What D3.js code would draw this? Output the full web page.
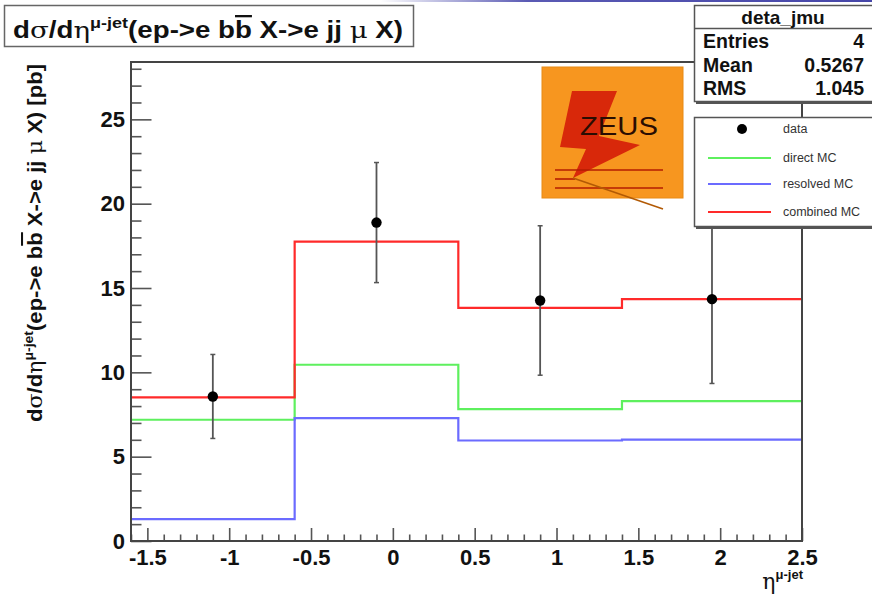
<!DOCTYPE html>
<html>
<head>
<meta charset="utf-8">
<script src="https://cdn.jsdelivr.net/npm/d3@7"></script>
<style>
  html, body { margin: 0; padding: 0; background: #fff; }
  svg { display: block; }
  text { font-family: "Liberation Sans", Arial, Helvetica, sans-serif; }
</style>
</head>
<body>
<svg id="chart" width="872" height="599"></svg>
<script>
// Histogram binning in eta(mu-jet)
const binEdges = [-1.6, -0.6, 0.4, 1.4, 2.5];

// Monte Carlo predictions per bin [pb]
const directMC   = [7.19, 10.45, 7.82, 8.29];
const resolvedMC = [1.30, 7.29, 5.96, 6.01];
const combinedMC = [8.51, 17.75, 13.82, 14.34];

// Measured cross sections with errors
const dataX   = [-1.1, -0.1, 0.9, 1.95];
const dataY   = [8.57, 18.88, 14.26, 14.34];
const dataErr = [2.49, 3.56, 4.43, 5.00];

// Axis ticks and labels
const xMajorTicks = [-1.5, -1, -0.5, 0, 0.5, 1, 1.5, 2, 2.5];
const xTickLabels = ["-1.5", "-1", "-0.5", "0", "0.5", "1", "1.5", "2", "2.5"];
const yMajorTicks = [0, 5, 10, 15, 20, 25];
const yTickLabels = ["0", "5", "10", "15", "20", "25"];

// Statistics box
const statsName = "deta_jmu";
const statsLabels = ["Entries", "Mean", "RMS"];
const statsValues = ["4", "0.5267", "1.045"];

// Legend
const legendLabels = ["data", "direct MC", "resolved MC", "combined MC"];
const legendColors = [null, "#5ef05e", "#6b6bff", "#ff2a2a"];

const svg = d3.select("#chart");

const x = d3.scaleLinear().domain([-1.6, 2.5]).range([131, 802]);
const y = d3.scaleLinear().domain([0, 28.4]).range([541, 62]);

// Top banner line
const defs = svg.append("defs");
const grad = defs.append("linearGradient").attr("id", "banner")
  .attr("x1", "0%").attr("x2", "100%");
grad.append("stop").attr("offset", "0%").attr("stop-color", "#ffffff");
grad.append("stop").attr("offset", "30%").attr("stop-color", "#5a5ab4");
grad.append("stop").attr("offset", "100%").attr("stop-color", "#4646a8");
svg.append("rect").attr("x", 380).attr("y", 0).attr("width", 492).attr("height", 2)
  .attr("fill", "url(#banner)");

// Minor ticks
const xMinor = d3.range(-16, 26).map(v => v / 10).filter(v => xMajorTicks.indexOf(v) < 0);
const yMinor = d3.range(0, 29).filter(v => yMajorTicks.indexOf(v) < 0);

const gx = svg.append("g").attr("transform", `translate(0,${y(0)})`);
gx.call(d3.axisBottom(x).tickValues(xMinor).tickSize(-6.5).tickFormat(""));
gx.call(g => g.select(".domain").remove());
const gxMaj = svg.append("g").attr("transform", `translate(0,${y(0)})`);
gxMaj.call(d3.axisBottom(x).tickValues(xMajorTicks).tickSize(-13)
  .tickPadding(8).tickFormat((d, i) => xTickLabels[i]));
gxMaj.call(g => g.select(".domain").remove());

const gy = svg.append("g").attr("transform", `translate(${x(-1.6)},0)`);
gy.call(d3.axisLeft(y).tickValues(yMinor).tickSize(-10.5).tickFormat(""));
gy.call(g => g.select(".domain").remove());
const gyMaj = svg.append("g").attr("transform", `translate(${x(-1.6)},0)`);
gyMaj.call(d3.axisLeft(y).tickValues(yMajorTicks).tickSize(-20.5)
  .tickPadding(6).tickFormat((d, i) => yTickLabels[i]));
gyMaj.call(g => g.select(".domain").remove());

svg.selectAll(".tick line").attr("stroke", "#555").attr("stroke-width", 1.6);
svg.selectAll(".tick text")
  .attr("font-family", "'Liberation Sans', Arial, sans-serif")
  .attr("font-weight", "bold").attr("font-size", 22).attr("fill", "#111");

// Histogram step lines
function stepPath(vals) {
  const p = d3.path();
  vals.forEach((v, i) => {
    const x0 = x(binEdges[i]), x1 = x(binEdges[i + 1]), yy = y(v);
    if (i === 0) p.moveTo(x0, yy); else p.lineTo(x0, yy);
    p.lineTo(x1, yy);
  });
  return p.toString();
}
const series = [
  { vals: directMC, color: legendColors[1] },
  { vals: resolvedMC, color: legendColors[2] },
  { vals: combinedMC, color: legendColors[3] }
];
svg.append("g").selectAll("path").data(series).join("path")
  .attr("d", d => stepPath(d.vals))
  .attr("fill", "none").attr("stroke", d => d.color).attr("stroke-width", 2.2);

// Data points with error bars
const pts = svg.append("g");
dataX.forEach((xv, i) => {
  const cx = x(xv);
  pts.append("line").attr("x1", cx).attr("x2", cx)
    .attr("y1", y(dataY[i] - dataErr[i])).attr("y2", y(dataY[i] + dataErr[i]))
    .attr("stroke", "#555").attr("stroke-width", 1.8);
  [dataY[i] - dataErr[i], dataY[i] + dataErr[i]].forEach(v => {
    pts.append("line").attr("x1", cx - 2.5).attr("x2", cx + 2.5)
      .attr("y1", y(v)).attr("y2", y(v)).attr("stroke", "#555").attr("stroke-width", 1.5);
  });
  pts.append("circle").attr("cx", cx).attr("cy", y(dataY[i])).attr("r", 5.2).attr("fill", "#000");
});

// Frame
svg.append("rect").attr("x", x(-1.6)).attr("y", y(28.4))
  .attr("width", x(2.5) - x(-1.6)).attr("height", y(0) - y(28.4))
  .attr("fill", "none").attr("stroke", "#444").attr("stroke-width", 2);

// ZEUS logo
const logo = svg.append("g");
logo.append("rect").attr("x", 542).attr("y", 67).attr("width", 141).attr("height", 131)
  .attr("fill", "#f7961f").attr("stroke", "#e88a15").attr("stroke-width", 1);
logo.append("path")
  .attr("d", "M572,91 L617,91 L599,136 L640,145 L573,178 L586,149 L560,147 Z")
  .attr("fill", "#d8280a");
logo.append("text").attr("x", 580).attr("y", 135).attr("font-size", 26)
  .attr("textLength", 78).attr("lengthAdjust", "spacingAndGlyphs")
  .attr("fill", "#2a0d02").text("ZEUS");
[[555, 663, 170], [555, 575, 179], [555, 663, 188]].forEach(([a, b, yy]) => {
  logo.append("line").attr("x1", a).attr("x2", b).attr("y1", yy).attr("y2", yy)
    .attr("stroke", "#b51c02").attr("stroke-width", 1.6);
});
logo.append("line").attr("x1", 573).attr("y1", 178).attr("x2", 663).attr("y2", 209)
  .attr("stroke", "#b25a05").attr("stroke-width", 1.6);

// Title box
svg.append("rect").attr("x", 4.5).attr("y", 5.5).attr("width", 409).attr("height", 41)
  .attr("fill", "#fff").attr("stroke", "#666").attr("stroke-width", 1.5);
const title = svg.append("text").attr("x", 13).attr("y", 38)
  .attr("font-size", 23).attr("font-weight", "bold").attr("fill", "#111")
  .attr("textLength", 390).attr("lengthAdjust", "spacingAndGlyphs");
title.append("tspan").text("d");
title.append("tspan").attr("font-family", "'DejaVu Serif', serif").attr("font-weight", "normal").text("σ");
title.append("tspan").text("/d");
title.append("tspan").attr("font-family", "'DejaVu Serif', serif").attr("font-weight", "normal").text("η");
title.append("tspan").attr("font-size", 15).attr("dy", -10).text("μ-jet");
title.append("tspan").attr("dy", 10).text("(ep->e b");
title.append("tspan").attr("text-decoration", "overline").text("b");
title.append("tspan").text(" X->e jj ");
title.append("tspan").attr("font-family", "'DejaVu Serif', serif").attr("font-weight", "normal").text("μ");
title.append("tspan").text(" X)");

// Statistics box
const sb = svg.append("g");
sb.append("rect").attr("x", 696).attr("y", 7).attr("width", 190).attr("height", 97).attr("fill", "#555");
sb.append("rect").attr("x", 694.5).attr("y", 5.5).attr("width", 190).attr("height", 96)
  .attr("fill", "#fff").attr("stroke", "#555").attr("stroke-width", 1.5);
sb.append("line").attr("x1", 694).attr("x2", 872).attr("y1", 28.5).attr("y2", 28.5)
  .attr("stroke", "#555").attr("stroke-width", 1.5);
sb.append("text").attr("x", 783).attr("y", 24).attr("text-anchor", "middle")
  .attr("font-size", 19).attr("font-weight", "bold").attr("fill", "#111").text(statsName);
statsLabels.forEach((lab, i) => {
  sb.append("text").attr("x", 703).attr("y", 48 + i * 23.5)
    .attr("font-size", 19.5).attr("font-weight", "bold").attr("fill", "#111").text(lab);
  sb.append("text").attr("x", 864).attr("y", 48 + i * 23.5).attr("text-anchor", "end")
    .attr("font-size", 19.5).attr("font-weight", "bold").attr("fill", "#111").text(statsValues[i]);
});

// Legend box
const lg = svg.append("g");
lg.append("rect").attr("x", 696).attr("y", 119).attr("width", 190).attr("height", 110).attr("fill", "#555");
lg.append("rect").attr("x", 694.5).attr("y", 117.5).attr("width", 190).attr("height", 109)
  .attr("fill", "#fff").attr("stroke", "#555").attr("stroke-width", 1.5);
const legY = [129, 158, 184, 212];
legendLabels.forEach((lab, i) => {
  if (i === 0) {
    lg.append("circle").attr("cx", 742).attr("cy", legY[i]).attr("r", 5).attr("fill", "#000");
  } else {
    lg.append("line").attr("x1", 708).attr("x2", 771).attr("y1", legY[i]).attr("y2", legY[i])
      .attr("stroke", legendColors[i]).attr("stroke-width", 2);
  }
  lg.append("text").attr("x", 783).attr("y", legY[i] + 4).attr("font-size", 12.5)
    .attr("fill", "#333").text(lab);
});

// Axis titles
const yt = svg.append("text").attr("transform", "translate(42,64) rotate(-90)")
  .attr("text-anchor", "end").attr("font-size", 20.5).attr("font-weight", "bold").attr("fill", "#111")
  .attr("textLength", 358).attr("lengthAdjust", "spacingAndGlyphs");
yt.append("tspan").text("d");
yt.append("tspan").attr("font-family", "'DejaVu Serif', serif").attr("font-weight", "normal").text("σ");
yt.append("tspan").text("/d");
yt.append("tspan").attr("font-family", "'DejaVu Serif', serif").attr("font-weight", "normal").text("η");
yt.append("tspan").attr("font-size", 13).attr("dy", -9).text("μ-jet");
yt.append("tspan").attr("dy", 9).text("(ep->e b");
yt.append("tspan").attr("text-decoration", "overline").text("b");
yt.append("tspan").text(" X->e jj ");
yt.append("tspan").attr("font-family", "'DejaVu Serif', serif").attr("font-weight", "normal").text("μ");
yt.append("tspan").text(" X) [pb]");

const xt = svg.append("text").attr("x", 803).attr("y", 589).attr("text-anchor", "end")
  .attr("font-size", 22).attr("fill", "#111");
xt.append("tspan").attr("font-family", "'DejaVu Serif', serif").text("η");
xt.append("tspan").attr("font-size", 13).attr("font-weight", "bold").attr("dy", -10).text("μ-jet");
</script>
</body>
</html>
